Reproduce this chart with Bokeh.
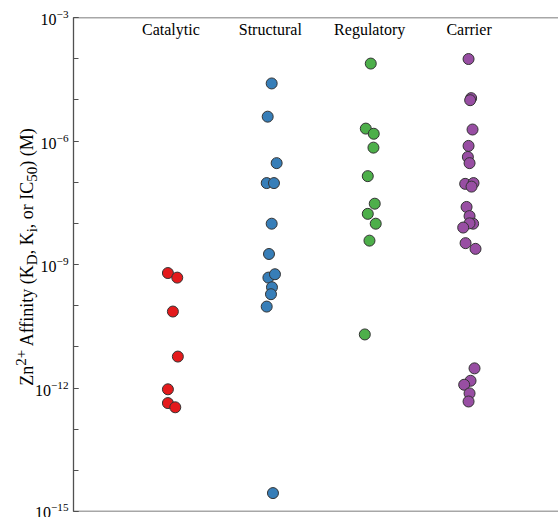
from bokeh.plotting import figure
from bokeh.layouts import row
from bokeh.models import Range1d, FixedTicker, Span, ColumnDataSource, LogTickFormatter, Div
from bokeh.core.properties import value
from bokeh.embed import file_html
from bokeh.resources import INLINE

# ---------------- data ----------------
categories = ["Catalytic", "Structural", "Regulatory", "Carrier"]
colors = ["#E41A1C", "#377EB8", "#4DAF4A", "#984EA3"]

catalytic_kd = [6.2e-10, 4.8e-10, 7.2e-11, 5.8e-12, 9.3e-13, 4.3e-13, 3.4e-13]
catalytic_jitter = [-0.03, 0.064, 0.02, 0.07, -0.03, -0.03, 0.044]

structural_kd = [2.5e-5, 3.9e-6, 2.9e-7, 9.5e-8, 9.5e-8, 9.8e-9, 1.8e-9,
                 4.8e-10, 5.8e-10, 2.8e-10, 1.9e-10, 9.5e-11, 2.8e-15]
structural_jitter = [0.014, -0.026, 0.064, -0.036, 0.037, 0.014, -0.013,
                     -0.019, 0.047, 0.017, 0.007, -0.036, 0.027]

regulatory_kd = [7.6e-5, 2.0e-6, 1.5e-6, 6.9e-7, 1.4e-7, 3.0e-8, 1.7e-8,
                 9.8e-9, 3.8e-9, 2.0e-11]
regulatory_jitter = [0.011, -0.039, 0.041, 0.038, -0.019, 0.051, -0.019,
                     0.061, -0.002, -0.049]

carrier_kd = [9.8e-5, 1.1e-5, 9.8e-6, 1.9e-6, 7.6e-7, 4.1e-7, 2.9e-7,
              9.1e-8, 9.5e-8, 7.8e-8, 2.5e-8, 1.5e-8, 9.8e-9, 1.0e-8,
              7.9e-9, 3.3e-9, 2.4e-9, 3.0e-12, 1.5e-12, 1.2e-12, 7.4e-13, 4.7e-13]
carrier_jitter = [-0.005, 0.021, 0.011, 0.035, -0.005, -0.012, 0.005,
                  -0.039, 0.045, 0.025, -0.025, 0.005, 0.041, 0.005,
                  -0.059, -0.035, 0.065, 0.055, 0.015, -0.049, 0.005, -0.005]

y_major_ticks = [1e-15, 1e-12, 1e-9, 1e-6, 1e-3]
y_minor_ticks = [10.0 ** e for e in range(-15, -2)]

series_kd = [catalytic_kd, structural_kd, regulatory_kd, carrier_kd]
series_jitter = [catalytic_jitter, structural_jitter, regulatory_jitter, carrier_jitter]

y_label_html = "Zn<sup>2+</sup> Affinity (K<sub>D</sub>, K<sub>i</sub>, or IC<sub>50</sub>) (M)"

# ---------------- layout ----------------
FONT = "Liberation Serif"
AXIS_COLOR = "#505050"
LABEL_W = 32
W, H = 558 - LABEL_W, 517
X0, X1 = 0.02, 4.9
Y0, Y1 = -15, -3

label_div = Div(
    text=(f'<div style="position:relative;width:{LABEL_W}px;height:{H}px;overflow:visible;">'
          f'<div style="position:absolute;left:27px;top:257px;'
          f'transform:translate(-50%,-50%) rotate(-90deg);white-space:nowrap;'
          f'font-family:\'{FONT}\';font-size:18px;line-height:1;color:black;">'
          f'{y_label_html}</div></div>'),
    width=LABEL_W, height=H, margin=0, styles={"overflow": "visible", "z-index": "1"})

p = figure(width=W, height=H, output_backend="svg", toolbar_location=None,
           y_axis_type="log", x_axis_location=None,
           x_range=Range1d(X0, X1), y_range=Range1d(10.0 ** Y0, 10.0 ** Y1),
           min_border_left=73 - LABEL_W, min_border_right=0, min_border_top=17,
           min_border_bottom=6, margin=0)
p.outline_line_color = None
p.grid.visible = False
p.background_fill_color = "white"
p.border_fill_color = "white"
p.border_fill_alpha = 0.0

yax = p.yaxis[0]
yax.ticker = FixedTicker(ticks=y_major_ticks, minor_ticks=y_minor_ticks)
yax.formatter = LogTickFormatter()
yax.major_tick_in = 5
yax.major_tick_out = 0
yax.minor_tick_in = 5
yax.minor_tick_out = 0
yax.axis_line_color = AXIS_COLOR
yax.axis_line_width = 1.3
yax.major_tick_line_color = AXIS_COLOR
yax.minor_tick_line_color = AXIS_COLOR
yax.major_label_text_font = FONT
yax.major_label_text_font_size = "16px"
yax.major_label_text_color = "black"
yax.major_label_standoff = 5

for loc in (10.0 ** Y1, 10.0 ** Y0):
    p.add_layout(Span(location=loc, dimension="width", line_color=AXIS_COLOR, line_width=1.3))

# points
for i, (kd, jit, col) in enumerate(zip(series_kd, series_jitter, colors)):
    src = ColumnDataSource(dict(x=[i + 1 + j for j in jit], y=kd))
    p.scatter("x", "y", source=src, size=11, marker="circle",
              fill_color=col, line_color="#333333", line_width=1)

# category labels
cat_src = ColumnDataSource(dict(x=[i + 1 for i in range(len(categories))],
                                y=[10 ** -3.30] * len(categories),
                                t=categories))
p.text("x", "y", text="t", source=cat_src, text_align="center", text_baseline="alphabetic",
       text_font=value(FONT), text_font_size="16px", text_color="black")

layout = row(label_div, p, spacing=0)
open("out.html", "w").write(file_html(layout, INLINE))
